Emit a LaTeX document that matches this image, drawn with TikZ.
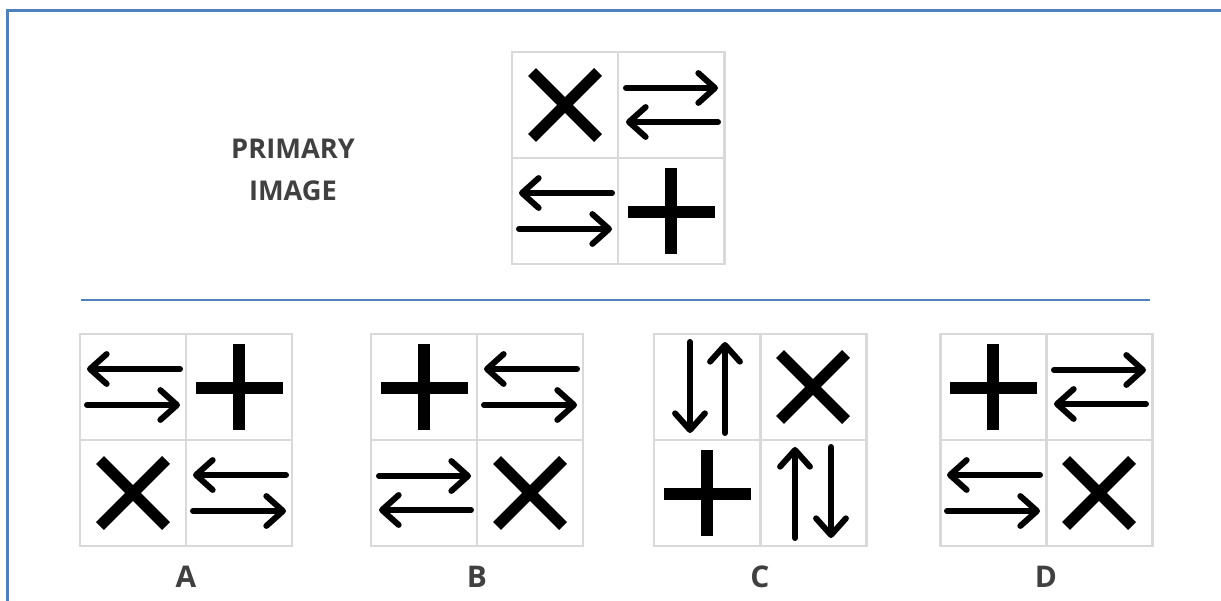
\documentclass[tikz,border=0pt]{standalone}
\usepackage{fontspec}
\setmainfont{Open Sans}
\usepackage{xcolor}
\usepackage{tikz}
\usetikzlibrary{arrows.meta,positioning}
\definecolor{piBlue}{HTML}{4F81BD}
\definecolor{piGrid}{HTML}{D9D9D9}
\definecolor{piText}{HTML}{404040}
\tikzset{
  cell/.style={draw=piGrid,line width=1.7pt,minimum size=106*0.02cm,inner sep=0pt,outer sep=0pt},
  xbar/.style={line width=6.4pt,line cap=butt},
  pbar/.style={line width=7pt,line cap=butt},
  arr/.style={line width=3.4pt,line cap=round,
    -{Straight Barb[length=9.5pt,width=17pt,line cap=round,line join=round]}},
  caption/.style={font=\bfseries\fontsize{15.5}{18}\selectfont,text=piText},
}
% symbols, drawn at the centre of a cell node
\newcommand{\crossmark}[1]{%
  \draw[xbar] ([shift={(-33,-33)}]#1.center) -- ([shift={(33,33)}]#1.center)
    ([shift={(-33,33)}]#1.center) -- ([shift={(33,-33)}]#1.center);}
\newcommand{\plusmark}[1]{%
  \draw[pbar] ([shift={(0,-43)}]#1.center) -- ([shift={(0,43)}]#1.center)
    ([shift={(-43,1)}]#1.center) -- ([shift={(44,1)}]#1.center);}
\newcommand{\rlmark}[1]{% top right, bottom left
  \draw[arr] ([shift={(-45,-17)}]#1.center) -- ([shift={(47,-17)}]#1.center);
  \draw[arr] ([shift={(47,17)}]#1.center) -- ([shift={(-45,17)}]#1.center);}
\newcommand{\lrmark}[1]{% top left, bottom right
  \draw[arr] ([shift={(47,-18)}]#1.center) -- ([shift={(-46,-18)}]#1.center);
  \draw[arr] ([shift={(-46,18)}]#1.center) -- ([shift={(47,18)}]#1.center);}
\newcommand{\dumark}[1]{% left down, right up
  \draw[arr] ([shift={(-17,-45)}]#1.center) -- ([shift={(-17,46)}]#1.center);
  \draw[arr] ([shift={(18,46)}]#1.center) -- ([shift={(18,-45)}]#1.center);}
\newcommand{\udmark}[1]{% left up, right down
  \draw[arr] ([shift={(-18,45)}]#1.center) -- ([shift={(-18,-46)}]#1.center);
  \draw[arr] ([shift={(18,-46)}]#1.center) -- ([shift={(18,45)}]#1.center);}
% a 2x2 panel: name, left, top, four symbols
\newcommand{\panel}[7]{%
  \node[cell] (#1-tl) at (#2+53,#3+53) {};
  \node[cell,right=0pt of #1-tl] (#1-tr) {};
  \node[cell,below=0pt of #1-tl] (#1-bl) {};
  \node[cell,right=0pt of #1-bl] (#1-br) {};
  #4{#1-tl}#5{#1-tr}#6{#1-bl}#7{#1-br}}

\begin{document}
\begin{tikzpicture}[x=0.02cm,y=-0.02cm]
  \useasboundingbox (0,0) rectangle (1221,601);
  \fill[white] (0,0) rectangle (1221,601);
  \draw[piBlue,line width=1.2pt] (1240,10.5) -- (7.5,10.5) -- (7.5,620);

  \node[caption,align=center] (prim) at (293,170) {PRIMARY\\[6pt]IMAGE};
  \panel{P}{512}{52}{\crossmark}{\rlmark}{\lrmark}{\plusmark}

  \coordinate (sepL) at (81,300);
  \coordinate (sepR) at (1150,300);
  \draw[piBlue,line width=1.2pt] (sepL) -- (sepR);

  \panel{A}{80}{334}{\lrmark}{\plusmark}{\crossmark}{\lrmark}
  \panel{B}{371}{334}{\plusmark}{\lrmark}{\rlmark}{\crossmark}
  \panel{C}{654}{334}{\dumark}{\crossmark}{\plusmark}{\udmark}
  \panel{D}{940}{334}{\plusmark}{\rlmark}{\lrmark}{\crossmark}

  \foreach \p in {A,B,C,D}
    \node[caption,font=\bfseries\fontsize{17}{20}\selectfont] (lab\p) at ([yshift=-0.62cm]\p-bl.south east) {\p};
\end{tikzpicture}
\end{document}
